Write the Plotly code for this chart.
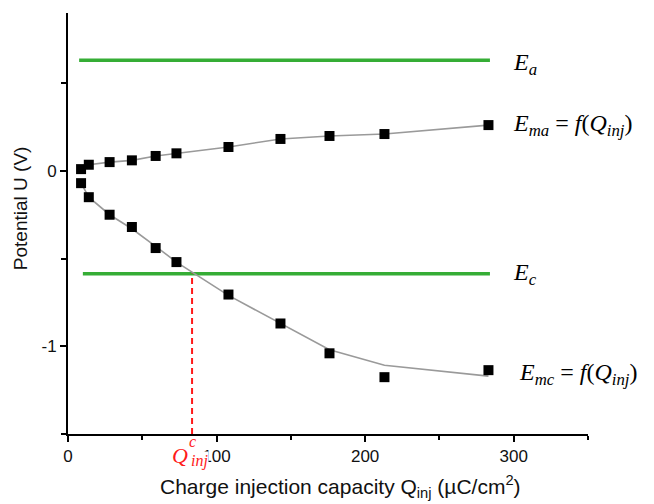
import plotly.graph_objects as go

# ---- data ----
q_inj = [8.8, 14, 28, 43, 59, 73, 108, 143, 176, 213, 283]
e_ma = [0.01, 0.035, 0.05, 0.06, 0.085, 0.10, 0.136, 0.182, 0.199, 0.21, 0.261]
e_ma_fit = [0.01, 0.035, 0.05, 0.06, 0.085, 0.10, 0.136, 0.182, 0.199, 0.21, 0.261]
e_mc = [-0.07, -0.15, -0.25, -0.32, -0.44, -0.52, -0.705, -0.87, -1.04, -1.176, -1.136]
e_mc_fit = [-0.07, -0.15, -0.25, -0.33, -0.43, -0.52, -0.71, -0.87, -1.02, -1.108, -1.17]
e_a_x = [7.5, 284]
e_a = [0.63, 0.63]
e_c_x = [10, 284]
e_c = [-0.587, -0.587]
q_c = 83.5
y_min = -1.5

x_ticks = [0, 100, 200, 300]
x_ticktext = ["0", "100", "200", "300"]
y_ticks = [-1, 0]
y_ticktext = ["-1", "0"]

GREEN = "#35ad35"
FONT = "Liberation Sans, Arial, sans-serif"
SERIF = "Liberation Serif, DejaVu Serif, serif"

fig = go.Figure()

fig.add_trace(go.Scatter(x=e_a_x, y=e_a, mode="lines",
                         line=dict(color=GREEN, width=3.5), showlegend=False))
fig.add_trace(go.Scatter(x=e_c_x, y=e_c, mode="lines",
                         line=dict(color=GREEN, width=3.5), showlegend=False))
fig.add_trace(go.Scatter(x=q_inj, y=e_ma_fit, mode="lines",
                         line=dict(color="#9a9a9a", width=1.6), showlegend=False))
fig.add_trace(go.Scatter(x=q_inj, y=e_mc_fit, mode="lines",
                         line=dict(color="#9a9a9a", width=1.6), showlegend=False))
fig.add_trace(go.Scatter(x=q_inj, y=e_ma, mode="markers",
                         marker=dict(symbol="square", color="black", size=10),
                         showlegend=False))
fig.add_trace(go.Scatter(x=q_inj, y=e_mc, mode="markers",
                         marker=dict(symbol="square", color="black", size=10),
                         showlegend=False))
fig.add_trace(go.Scatter(x=[q_c, q_c], y=[y_min, e_c[0]], mode="lines",
                         line=dict(color="#ff1a1a", width=2, dash="6px,4px"),
                         showlegend=False))

annos = [
    dict(x=0.852, y=0.878, text="<i>E<sub>a</sub></i>", size=24),
    dict(x=0.852, y=0.735, text="<i>E<sub>ma</sub></i> = <i>f</i>(<i>Q<sub>inj</sub></i>)", size=24),
    dict(x=0.852, y=0.380, text="<i>E<sub>c</sub></i>", size=24),
    dict(x=0.864, y=0.142, text="<i>E<sub>mc</sub></i> = <i>f</i>(<i>Q<sub>inj</sub></i>)", size=24),
]
for a in annos:
    fig.add_annotation(xref="paper", yref="paper", xanchor="left", yanchor="middle",
                       showarrow=False, x=a["x"], y=a["y"], text=a["text"],
                       font=dict(family=SERIF, color="black", size=a["size"]))

# Q^c_inj red label
fig.add_annotation(xref="x", yref="paper", x=q_c - 1.5, y=-0.052, xanchor="right",
                   yanchor="middle", showarrow=False, text="<i>Q</i>",
                   font=dict(family=SERIF, color="#ff1a1a", size=22))
fig.add_annotation(xref="x", yref="paper", x=q_c + 0.5, y=-0.018, xanchor="center",
                   yanchor="middle", showarrow=False, text="<i>c</i>",
                   font=dict(family=SERIF, color="#ff1a1a", size=16))
fig.add_annotation(xref="x", yref="paper", x=q_c - 1.5, y=-0.064, xanchor="left",
                   yanchor="middle", showarrow=False, text="<i>inj</i>",
                   bgcolor="white", borderpad=0,
                   font=dict(family=SERIF, color="#ff1a1a", size=16))

# axis titles
fig.add_annotation(xref="paper", yref="paper", x=(340 - 68) / 520, y=-0.125,
                   yanchor="middle", xanchor="center", showarrow=False,
                   text="Charge injection capacity Q<sub>inj</sub> (\u00b5C/cm<sup>2</sup>)",
                   font=dict(family=FONT, size=21, color="#111"))
fig.add_annotation(xref="paper", yref="paper", x=-0.092, y=(434 - 208) / 421,
                   yanchor="middle", xanchor="center", textangle=-90, showarrow=False,
                   text="Potential U (V)",
                   font=dict(family=FONT, size=19, color="#111"))

axis_common = dict(showgrid=False, zeroline=False, showline=True, linecolor="black",
                   linewidth=2, ticks="outside", tickcolor="black", tickwidth=1.5,
                   ticklen=6, tickfont=dict(family=FONT, size=17, color="#111"))

fig.update_xaxes(range=[0, 350], tickvals=x_ticks, ticktext=x_ticktext,
                 minor=dict(dtick=50, tick0=0, ticks="outside", ticklen=4,
                            tickcolor="black", tickwidth=1.5),
                 **axis_common)
fig.update_yaxes(range=[-1.5, 0.9], tickvals=y_ticks, ticktext=y_ticktext,
                 minor=dict(dtick=0.5, tick0=0, ticks="outside", ticklen=5,
                            tickcolor="black", tickwidth=1.5),
                 **axis_common)

fig.update_layout(width=654, height=504, margin=dict(l=68, r=66, t=13, b=70),
                  plot_bgcolor="white", paper_bgcolor="white")

fig.write_html("out.html")
